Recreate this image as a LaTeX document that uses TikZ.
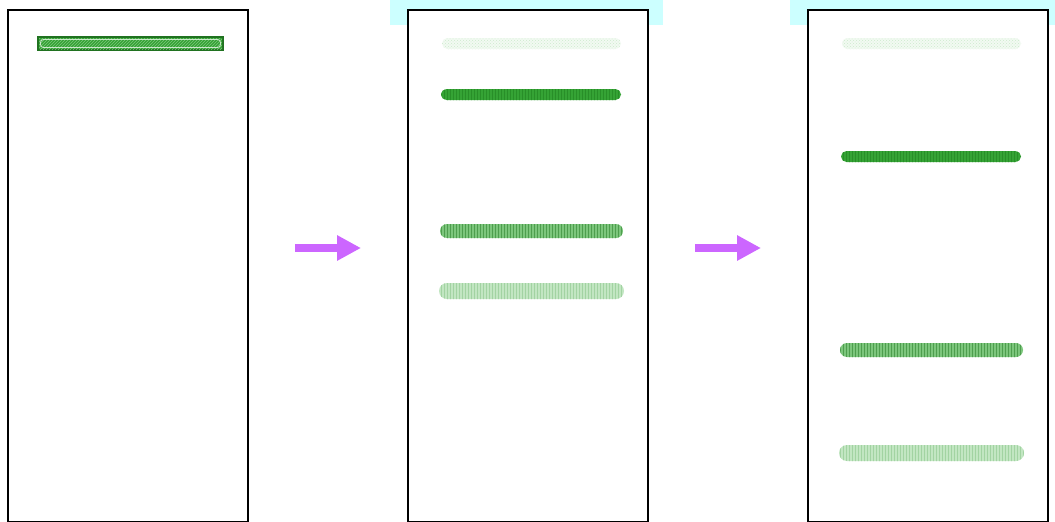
\documentclass[tikz,border=0pt]{standalone}
\usetikzlibrary{arrows.meta,patterns}
\definecolor{cyanband}{HTML}{CCFFFF}
\definecolor{gdark}{HTML}{35A335}
\definecolor{gdarkline}{HTML}{288F28}
\definecolor{gmed}{HTML}{7CC67C}
\definecolor{gmedline}{HTML}{4E9E4E}
\definecolor{glight}{HTML}{C2E6C2}
\definecolor{glightline}{HTML}{A2D3A2}
\definecolor{gpale}{HTML}{F2FAF2}
\definecolor{gpaleline}{HTML}{CDEBCD}
\definecolor{violet}{HTML}{CC66FF}
\tikzset{
  panel/.style={draw=black, line width=2pt, fill=white, rectangle, inner sep=0pt, minimum width=240pt, minimum height=512pt},
  cyanbox/.style={fill=cyanband, draw=none},
  move/.style={draw=violet, line width=8pt, -{Triangle[length=24pt,width=24pt]}},
}
\newcommand{\band}[7]{% x1 y1 x2 y2 fill pattern patterncolor
  \path[fill=#5, rounded corners={(#4-#2)/2}] (#1,#2) rectangle (#3,#4);
  \path[pattern=#6, pattern color=#7, rounded corners={(#4-#2)/2}] (#1,#2) rectangle (#3,#4);
}
\begin{document}
\begin{tikzpicture}[x=1pt,y=-1pt]
\useasboundingbox (0,0) rectangle (1055,522);
% cyan headers
\fill[cyanband] (390,0) rectangle (663,25);
\fill[cyanband] (790,0) rectangle (1055,25);
% panels
\node[panel, anchor=north west] (p1) at (6.5,8.5) {};
\node[panel, anchor=north west] (p2) at (406.5,8.5) {};
\node[panel, anchor=north west] (p3) at (806.5,8.5) {};
% panel 1 band (in well)
\path[fill=gdark, draw=gdarkline!80!black, line width=1.3pt] (38,37) rectangle (223,50);
\path[pattern=north east lines, pattern color=gmed] (39,38) rectangle (222,49);
\draw[white!75!gdark, line width=0.8pt, rounded corners=3pt] (40.5,39.5) rectangle (220.5,47.5);
% panel 2 bands
\band{442}{38}{621}{49}{gpale}{crosshatch dots}{gpaleline}
\band{441}{89}{621}{100}{gdark}{vertical lines}{gdarkline}
\band{440}{224}{623}{238}{gmed}{vertical lines}{gmedline}
\band{439}{283}{624}{299}{glight}{vertical lines}{glightline}
% panel 3 bands
\band{842}{38}{1021}{49}{gpale}{crosshatch dots}{gpaleline}
\band{841}{151}{1021}{162}{gdark}{vertical lines}{gdarkline}
\band{840}{343}{1023}{357}{gmed}{vertical lines}{gmedline}
\band{839}{445}{1024}{461}{glight}{vertical lines}{glightline}
% arrows
\coordinate (a1s) at (295,248);
\coordinate (a1e) at (361,248);
\coordinate (a2s) at (695,248);
\coordinate (a2e) at (761,248);
\draw[move] (a1s) -- (a1e);
\draw[move] (a2s) -- (a2e);
\end{tikzpicture}
\end{document}
